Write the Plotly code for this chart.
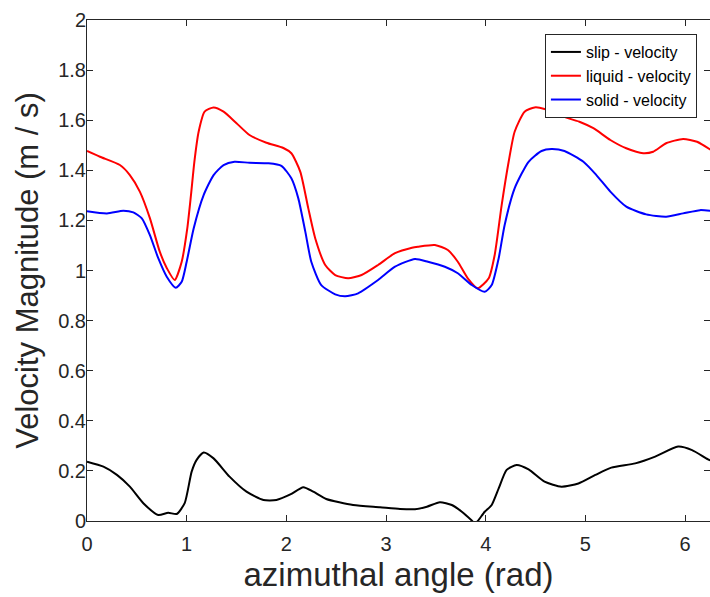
import plotly.graph_objects as go

# ---- data ----
slip_x = [0, 0.165, 0.30, 0.43, 0.565, 0.715, 0.815, 0.90, 0.98, 1.05, 1.10, 1.17, 1.27, 1.43, 1.60,
          1.77, 1.90, 2.04, 2.17, 2.27, 2.40, 2.67, 2.94, 3.14, 3.29, 3.41, 3.54, 3.66, 3.76, 3.86,
          3.89, 3.92, 3.99, 4.06, 4.13, 4.21, 4.31, 4.43, 4.59, 4.76, 4.93, 5.10, 5.26, 5.50, 5.70,
          5.93, 6.07, 6.23, 6.283]
slip_y = [0.237, 0.217, 0.184, 0.137, 0.071, 0.024, 0.033, 0.028, 0.071, 0.197, 0.244, 0.273, 0.250,
          0.177, 0.117, 0.084, 0.084, 0.106, 0.135, 0.117, 0.088, 0.064, 0.055, 0.048, 0.047, 0.057,
          0.075, 0.064, 0.037, 0.002, -0.01, 0.0, 0.037, 0.064, 0.13, 0.204, 0.224, 0.206, 0.157,
          0.137, 0.150, 0.184, 0.213, 0.230, 0.257, 0.297, 0.283, 0.246, 0.237]

liquid_x = [0, 0.13, 0.33, 0.43, 0.53, 0.63, 0.73, 0.80, 0.88, 0.95, 1.006, 1.043, 1.077, 1.12, 1.18,
            1.27, 1.37, 1.50, 1.63, 1.80, 1.97, 2.05, 2.14, 2.22, 2.29, 2.39, 2.49, 2.62, 2.755, 2.92,
            3.09, 3.26, 3.32, 3.49, 3.62, 3.72, 3.82, 3.92, 4.03, 4.09, 4.16, 4.23, 4.29, 4.39, 4.49,
            4.59, 4.73, 4.94, 5.08, 5.25, 5.41, 5.58, 5.68, 5.81, 5.98, 6.12, 6.283]
liquid_y = [1.477, 1.454, 1.421, 1.381, 1.315, 1.21, 1.075, 1.01, 0.962, 1.035, 1.168, 1.301, 1.434,
            1.554, 1.634, 1.651, 1.634, 1.588, 1.541, 1.51, 1.489, 1.468, 1.394, 1.248, 1.128, 1.022,
            0.982, 0.969, 0.982, 1.022, 1.069, 1.091, 1.095, 1.102, 1.082, 1.035, 0.969, 0.929, 0.969,
            1.062, 1.261, 1.434, 1.554, 1.634, 1.651, 1.645, 1.62, 1.594, 1.568, 1.521, 1.488, 1.468,
            1.474, 1.508, 1.525, 1.514, 1.475]

solid_x = [0, 0.20, 0.365, 0.465, 0.55, 0.63, 0.715, 0.80, 0.89, 0.95, 1.0, 1.07, 1.17, 1.27, 1.37,
           1.48, 1.63, 1.82, 1.95, 2.05, 2.12, 2.19, 2.25, 2.35, 2.49, 2.59, 2.72, 2.92, 3.09, 3.29,
           3.42, 3.59, 3.72, 3.86, 3.99, 4.06, 4.13, 4.19, 4.29, 4.43, 4.56, 4.66, 4.79, 4.98, 5.11,
           5.25, 5.41, 5.61, 5.81, 5.98, 6.15, 6.283]
solid_y = [1.237, 1.228, 1.239, 1.232, 1.208, 1.142, 1.049, 0.975, 0.931, 0.955, 1.035, 1.168, 1.301,
           1.381, 1.421, 1.434, 1.430, 1.428, 1.418, 1.368, 1.288, 1.155, 1.035, 0.942, 0.905, 0.897,
           0.909, 0.962, 1.015, 1.046, 1.035, 1.015, 0.989, 0.942, 0.915, 0.942, 1.049, 1.182, 1.328,
           1.434, 1.477, 1.485, 1.477, 1.434, 1.381, 1.315, 1.255, 1.224, 1.215, 1.228, 1.241, 1.237]

x_ticks = [0, 1, 2, 3, 4, 5, 6]
y_ticks = [0, 0.2, 0.4, 0.6, 0.8, 1, 1.2, 1.4, 1.6, 1.8, 2]
y_tick_labels = ["0", "0.2", "0.4", "0.6", "0.8", "1", "1.2", "1.4", "1.6", "1.8", "2"]

AX = "#262626"
FONT = "Arial, 'Liberation Sans', sans-serif"

fig = go.Figure()
fig.add_trace(go.Scatter(x=slip_x, y=slip_y, mode="lines", name="slip - velocity",
                         line=dict(color="black", width=2, shape="spline", smoothing=0.6)))
fig.add_trace(go.Scatter(x=liquid_x, y=liquid_y, mode="lines", name="liquid - velocity",
                         line=dict(color="#ff0000", width=2, shape="spline", smoothing=0.6)))
fig.add_trace(go.Scatter(x=solid_x, y=solid_y, mode="lines", name="solid - velocity",
                         line=dict(color="#0000ff", width=2, shape="spline", smoothing=0.6)))
# invisible trace on right axis for mirrored ticks
fig.add_trace(go.Scatter(x=[0], y=[0], yaxis="y2", mode="lines", showlegend=False,
                         hoverinfo="skip", line=dict(width=0)))

fig.update_layout(
    width=710, height=597,
    margin=dict(l=87, r=0, t=20, b=76, autoexpand=False),
    plot_bgcolor="white", paper_bgcolor="white",
    font=dict(family=FONT, color=AX),
    showlegend=True,
    legend=dict(x=0.979, xanchor="right", y=0.972, yanchor="top",
                bgcolor="white", bordercolor=AX, borderwidth=1,
                font=dict(size=16, color="black", family=FONT),
                tracegroupgap=0),
    xaxis=dict(range=[0, 6.25], tickvals=x_ticks, ticks="inside", ticklen=6, tickcolor=AX,
               showline=True, linecolor=AX, linewidth=1, mirror="ticks", showgrid=False,
               zeroline=False, tickfont=dict(size=20, color=AX), automargin=False,
               ticklabelstandoff=5,
               title=dict(text="azimuthal angle (rad)", font=dict(size=33, color=AX), standoff=8)),
    yaxis=dict(range=[0, 2], tickvals=y_ticks, ticktext=y_tick_labels, ticks="inside", ticklen=6,
               tickcolor=AX, showline=True, linecolor=AX, linewidth=1, mirror=False,
               showgrid=False, zeroline=False, tickfont=dict(size=20, color=AX), automargin=False,
               ticklabelstandoff=-4,
               title=dict(text="Velocity Magnitude (m / s)", font=dict(size=31, color=AX), standoff=10)),
    yaxis2=dict(range=[0, 2], tickvals=y_ticks, overlaying="y", side="right", ticks="inside",
                ticklen=6, tickcolor=AX, showline=False, showticklabels=False, showgrid=False,
                zeroline=False, automargin=False),
)

# remove the browser's default 8px body margin so the figure fills the window exactly
fig.write_html("out.html", config={"displayModeBar": False},
               post_script="document.body.style.margin='0';document.body.style.overflow='hidden';")
